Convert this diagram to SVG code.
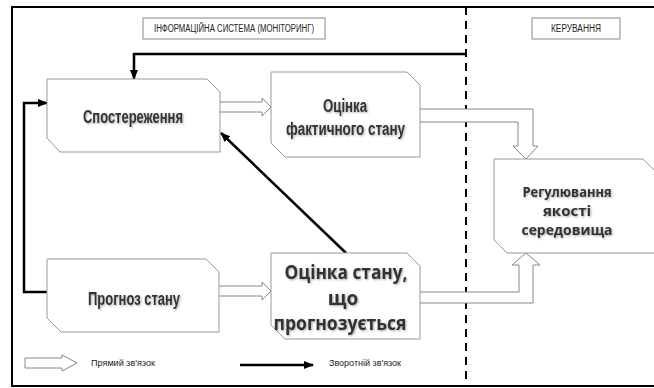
<svg xmlns="http://www.w3.org/2000/svg" width="654" height="388" viewBox="0 0 654 388">
<defs>
<marker id="ah" markerUnits="userSpaceOnUse" markerWidth="10" markerHeight="10" viewBox="0 0 10 10" refX="9" refY="5" orient="auto">
<path d="M0,1 L10,5 L0,9 Z" fill="#000"/>
</marker>
<filter id="sh" x="-10%" y="-30%" width="120%" height="160%">
<feDropShadow dx="1" dy="1" stdDeviation="0.8" flood-color="#000" flood-opacity="0.35"/>
</filter>
<style>
.node{fill:#fff;stroke:#999;stroke-width:1}
.lbl{fill:#fff;stroke:#888;stroke-width:1}
.hol{fill:#fff;stroke:#888;stroke-width:1}
.fb{fill:none;stroke:#000;stroke-width:2.5}
.cond{font-family:"Liberation Sans",Arial,sans-serif;font-weight:bold;fill:#333;text-anchor:middle}
.cal{font-family:"Open Sans","Liberation Sans",sans-serif;font-weight:bold;fill:#333;text-anchor:middle}
.small{font-family:"Liberation Sans",Arial,sans-serif;fill:#222;text-anchor:middle}
</style>
</defs>
<rect x="12" y="7" width="660" height="379" fill="#fff" stroke="#000" stroke-width="2"/>
<line x1="466" y1="7" x2="466" y2="386" stroke="#000" stroke-width="2" stroke-dasharray="8 6"/>
<g id="label-info">
<rect class="lbl" x="143" y="18" width="182" height="21"/>
<text class="small" x="234" y="32" font-size="10" textLength="160" lengthAdjust="spacingAndGlyphs">ІНФОРМАЦІЙНА СИСТЕМА (МОНІТОРИНГ)</text>
</g>
<g id="label-control">
<rect class="lbl" x="532" y="18" width="88" height="21"/>
<text class="small" x="576" y="32" font-size="10" textLength="50" lengthAdjust="spacingAndGlyphs">КЕРУВАННЯ</text>
</g>
<g id="connectors">
<path class="hol" d="M220,102 H262 V98 L271,107 L262,116 V112 H220"/>
<path class="hol" d="M219,286 H262 V282 L271,291 L262,300 V296 H219"/>
<path class="hol" d="M420,109 H533 V146 H538 L526,159 L513,146 H518 V122 H420"/>
<path class="hol" d="M420,292 H519 V265 H512 L526,253 L540,265 H533 V303 H420"/>
<path class="fb" d="M466,54 H134 V79" marker-end="url(#ah)"/>
<path class="fb" d="M47,292 H24 V103 H47" marker-end="url(#ah)"/>
<path class="fb" d="M346,253 L221,133" marker-end="url(#ah)"/>
</g>
<g id="n-observe">
<polygon class="node" points="47,79 207,79 220,92 220,152 60,152 47,138"/>
<text class="cond" x="133" y="123" font-size="18" textLength="100" lengthAdjust="spacingAndGlyphs" filter="url(#sh)">Спостереження</text>
</g>
<g id="n-actual">
<polygon class="node" points="271,72 407,72 420,85 420,157 285,157 271,143"/>
<text class="cond" x="345" y="112" font-size="18" textLength="44" lengthAdjust="spacingAndGlyphs" filter="url(#sh)">Оцінка</text>
<text class="cond" x="345.5" y="135" font-size="18" textLength="119" lengthAdjust="spacingAndGlyphs" filter="url(#sh)">фактичного стану</text>
</g>
<g id="n-forecast">
<polygon class="node" points="47,259 206,259 219,272 219,332 61,332 47,318"/>
<text class="cond" x="134" y="305" font-size="18" textLength="92" lengthAdjust="spacingAndGlyphs" filter="url(#sh)">Прогноз стану</text>
</g>
<g id="n-predicted">
<polygon class="node" points="271,253 407,253 420,266 420,339 285,339 271,325"/>
<text class="cal" x="346" y="279" font-size="19" textLength="123" lengthAdjust="spacingAndGlyphs" filter="url(#sh)">Оцінка стану,</text>
<text class="cal" x="343" y="305" font-size="19" filter="url(#sh)">що</text>
<text class="cal" x="340" y="330" font-size="19" textLength="133" lengthAdjust="spacingAndGlyphs" filter="url(#sh)">прогнозується</text>
</g>
<g id="n-regulate">
<polygon class="node" points="494,159 643,159 660,176 660,253 507,253 494,240"/>
<text class="cal" x="567" y="197" font-size="15" textLength="89" lengthAdjust="spacingAndGlyphs" filter="url(#sh)">Регулювання</text>
<text class="cal" x="567" y="216" font-size="15" filter="url(#sh)">якості</text>
<text class="cal" x="567" y="235" font-size="15" textLength="91" lengthAdjust="spacingAndGlyphs" filter="url(#sh)">середовища</text>
</g>
<g id="legend">
<path class="hol" d="M25,358 H62 V355 L77,363 L62,371 V368 H25 Z"/>
<text class="small" x="123" y="366" font-size="9" textLength="64" lengthAdjust="spacingAndGlyphs">Прямий зв'язок</text>
<path class="fb" d="M240,365 H313" marker-end="url(#ah)"/>
<text class="small" x="365" y="366" font-size="9" textLength="72" lengthAdjust="spacingAndGlyphs">Зворотній зв'язок</text>
</g>
</svg>
